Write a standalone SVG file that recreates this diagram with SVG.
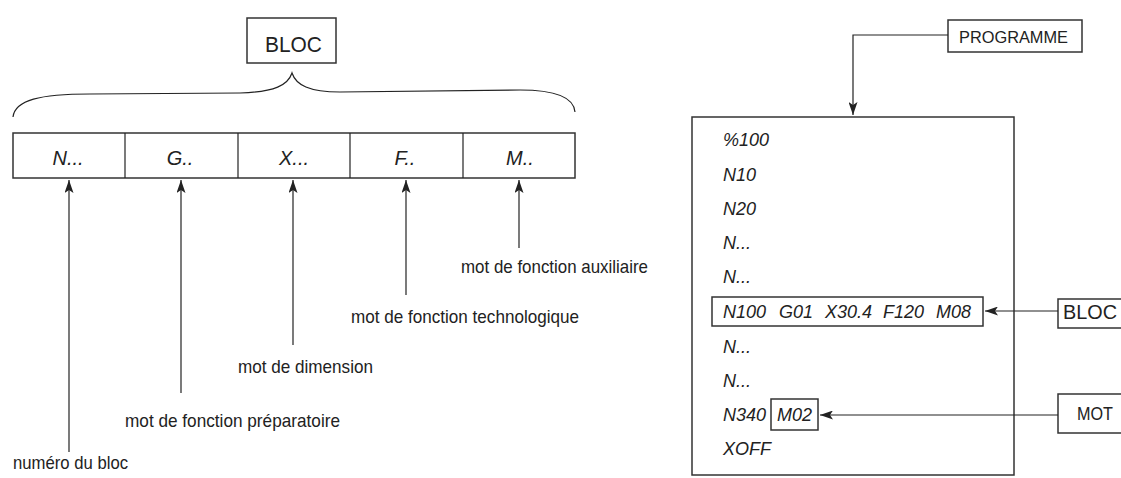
<svg xmlns="http://www.w3.org/2000/svg" width="1121" height="478" viewBox="0 0 1121 478">
<style>
.box{fill:#fff;stroke:#333;stroke-width:1.5}
.nofill{fill:none}
.ln{fill:none;stroke:#222;stroke-width:1.2}
.t{font-family:"Liberation Sans",Arial,sans-serif;fill:#222}
.lab{font-size:19px}
.it{font-style:italic;font-size:20px}
.code{font-style:italic;font-size:18px}
</style>
<defs>
<marker id="ah" viewBox="0 0 13 9" refX="13" refY="4.5" markerWidth="13" markerHeight="9" markerUnits="userSpaceOnUse" orient="auto">
<path d="M0,0 L13,4.5 L0,9 L3,4.5 z" fill="#222"/>
</marker>
</defs>
<rect width="1121" height="478" fill="#fff"/>

<g id="bloc-title">
<rect class="box" x="247" y="18" width="89" height="45"/>
<text class="t" x="265" y="52" font-size="22" textLength="57" lengthAdjust="spacingAndGlyphs">BLOC</text>
</g>
<g id="brace">
<path class="ln" d="M13,117 C15,100 40,94 90,94 L240,93 C275,92 288,85 292,73 C296,85 309,92 340,92 L520,90 C560,90 574,100 575,112"/>
</g>
<g id="row">
<rect class="box" x="13" y="133" width="562" height="45"/>
<line class="ln" x1="125" y1="133" x2="125" y2="178"/>
<line class="ln" x1="238" y1="133" x2="238" y2="178"/>
<line class="ln" x1="350" y1="133" x2="350" y2="178"/>
<line class="ln" x1="463" y1="133" x2="463" y2="178"/>
<text class="t it" x="68" y="165" text-anchor="middle">N...</text>
<text class="t it" x="180" y="165" text-anchor="middle">G..</text>
<text class="t it" x="294" y="165" text-anchor="middle">X...</text>
<text class="t it" x="405" y="165" text-anchor="middle">F..</text>
<text class="t it" x="520" y="165" text-anchor="middle">M..</text>
</g>
<g id="labels">
<text class="t lab" x="461" y="273" textLength="187" lengthAdjust="spacingAndGlyphs">mot de fonction auxiliaire</text>
<text class="t lab" x="351" y="323" textLength="228" lengthAdjust="spacingAndGlyphs">mot de fonction technologique</text>
<text class="t lab" x="238" y="373" textLength="135" lengthAdjust="spacingAndGlyphs">mot de dimension</text>
<text class="t lab" x="125" y="427" textLength="215" lengthAdjust="spacingAndGlyphs">mot de fonction préparatoire</text>
<text class="t lab" x="13" y="469" textLength="115" lengthAdjust="spacingAndGlyphs">numéro du bloc</text>
</g>

<g id="programme">
<rect class="box" x="948" y="20" width="134" height="32"/>
<text class="t" x="959" y="43" font-size="17" textLength="109" lengthAdjust="spacingAndGlyphs">PROGRAMME</text>
</g>
<g id="program-box">
<rect class="box" x="692" y="117" width="322" height="358"/>
<text class="t code" x="723" y="146">%100</text>
<text class="t code" x="723" y="181">N10</text>
<text class="t code" x="723" y="215">N20</text>
<text class="t code" x="723" y="249">N...</text>
<text class="t code" x="723" y="283">N...</text>
<rect class="box nofill" x="712" y="297" width="271" height="29"/>
<text class="t code" x="723" y="318">N100</text>
<text class="t code" x="779" y="318">G01</text>
<text class="t code" x="825" y="318">X30.4</text>
<text class="t code" x="883" y="318">F120</text>
<text class="t code" x="936" y="318">M08</text>
<text class="t code" x="723" y="353">N...</text>
<text class="t code" x="723" y="387">N...</text>
<text class="t code" x="723" y="421">N340</text>
<rect class="box" x="771" y="399" width="47" height="31"/>
<text class="t code" x="777" y="421">M02</text>
<text class="t code" x="723" y="455">XOFF</text>
</g>
<g id="bloc-label">
<rect class="box" x="1058" y="299" width="70" height="29"/>
<text class="t" x="1063" y="319" font-size="20" textLength="54" lengthAdjust="spacingAndGlyphs">BLOC</text>
</g>
<g id="mot-label">
<rect class="box" x="1058" y="394" width="70" height="39"/>
<text class="t" x="1077" y="420" font-size="19" textLength="36" lengthAdjust="spacingAndGlyphs">MOT</text>
</g>

<g id="connectors">
<line class="ln" x1="69" y1="452" x2="69" y2="180" marker-end="url(#ah)"/>
<line class="ln" x1="181" y1="393" x2="181" y2="180" marker-end="url(#ah)"/>
<line class="ln" x1="293" y1="345" x2="293" y2="180" marker-end="url(#ah)"/>
<line class="ln" x1="406" y1="295" x2="406" y2="180" marker-end="url(#ah)"/>
<line class="ln" x1="519" y1="248" x2="519" y2="180" marker-end="url(#ah)"/>
<polyline class="ln" points="948,35 853,35 853,115" marker-end="url(#ah)"/>
<line class="ln" x1="1058" y1="311" x2="985" y2="311" marker-end="url(#ah)"/>
<line class="ln" x1="1058" y1="415" x2="820" y2="415" marker-end="url(#ah)"/>
</g>
</svg>
